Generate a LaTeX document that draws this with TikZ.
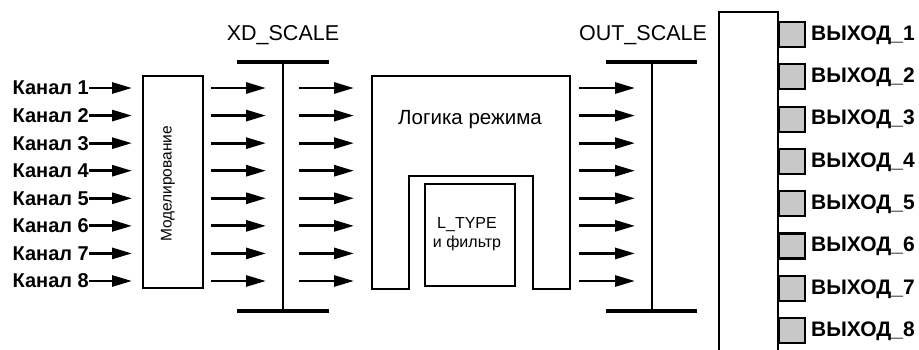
\documentclass[tikz,border=0pt]{standalone}
\usepackage{fontspec}
\setmainfont{Liberation Sans}
\usetikzlibrary{arrows.meta}
\definecolor{pingray}{RGB}{200,200,200}
\tikzset{
  ar/.style={-{Triangle[length=20pt,width=11pt]},line width=2.8pt},
  box/.style={draw,line width=2.8pt,inner sep=0pt},
  bar/.style={line width=3.8pt},
  post/.style={line width=2.8pt},
  chlab/.style={font=\fontsize{20}{20}\selectfont\bfseries,anchor=east,inner sep=0pt},
  outlab/.style={font=\fontsize{21}{21}\selectfont\bfseries,anchor=west,inner sep=0pt},
  sclab/.style={font=\fontsize{21.5}{21.5}\selectfont,inner sep=0pt},
  pin/.style={draw,line width=2.2pt,fill=pingray,minimum width=26pt,minimum height=25pt,inner sep=0pt}
}

\begin{document}
\begin{tikzpicture}[x=1pt,y=-1pt]
\useasboundingbox (0,0) rectangle (919,349);
% modelling block and inputs
\node[box,minimum width=60pt,minimum height=212pt] (model) at (173,182) {};
\node[rotate=90,font=\fontsize{15.5}{15.5}\selectfont] (modtxt) at (168,184) {Моделирование};
\foreach \i in {1,...,8}{
  \node[chlab] (ch\i) at (89,{88+27.57*(\i-1)}) {Канал \i};
  \coordinate (m\i) at (132,{88+27.57*(\i-1)});
  \draw[ar] (ch\i.east) -- (m\i);
}
% XD_SCALE
\coordinate (xdt) at (283,62);
\coordinate (xdb) at (283,311);
\draw[bar] (237,62) -- (329,62);
\draw[bar] (237,311) -- (329,311);
\draw[post] (xdt) -- (xdb);
\node[sclab] (xdl) at (283,35) {XD\_SCALE};
\foreach \i in {1,...,8}{
  \coordinate (a\i) at (211,{88+27.57*(\i-1)});
  \coordinate (b\i) at (266,{88+27.57*(\i-1)});
  \coordinate (c\i) at (299,{88+27.57*(\i-1)});
  \coordinate (d\i) at (354,{88+27.57*(\i-1)});
  \draw[ar] (a\i) -- (b\i);
  \draw[ar] (c\i) -- (d\i);
}
% mode logic
\draw[line width=2.8pt,line join=miter] (372,289) -- (372,76) -- (570,76) -- (570,289) -- (533,289)
  -- (533,176) -- (409,176) -- (409,289) -- cycle;
\node[font=\fontsize{20.5}{20.5}\selectfont] (logic) at (470,120) {Логика режима};
\node[box,minimum width=90pt,minimum height=102pt] (ltype) at (470,235) {};
\node[font=\fontsize{16}{19}\selectfont,align=center] (lttxt) at (467,234) {L\_TYPE\\и фильтр};
% OUT_SCALE
\coordinate (ot) at (652,62);
\coordinate (ob) at (652,311);
\draw[bar] (606,62) -- (697,62);
\draw[bar] (606,311) -- (697,311);
\draw[post] (ot) -- (ob);
\node[sclab] (outl) at (643,35) {OUT\_SCALE};
\foreach \k in {1,...,8}{
  \coordinate (e\k) at (579,{88+27.57*(\k-1)});
  \coordinate (f\k) at (635,{88+27.57*(\k-1)});
  \draw[ar] (e\k) -- (f\k);
}
% outputs
\draw[line width=2.8pt] (719,360) -- (719,12) -- (778,12) -- (778,360);
\foreach \k in {1,...,8}{
  \node[pin] (p\k) at (792,{34.5+42.3*(\k-1)}) {};
  \node[outlab] (o\k) at (811,{35+42.3*(\k-1)}) {ВЫХОД\_\k};
}
\end{tikzpicture}
\end{document}
